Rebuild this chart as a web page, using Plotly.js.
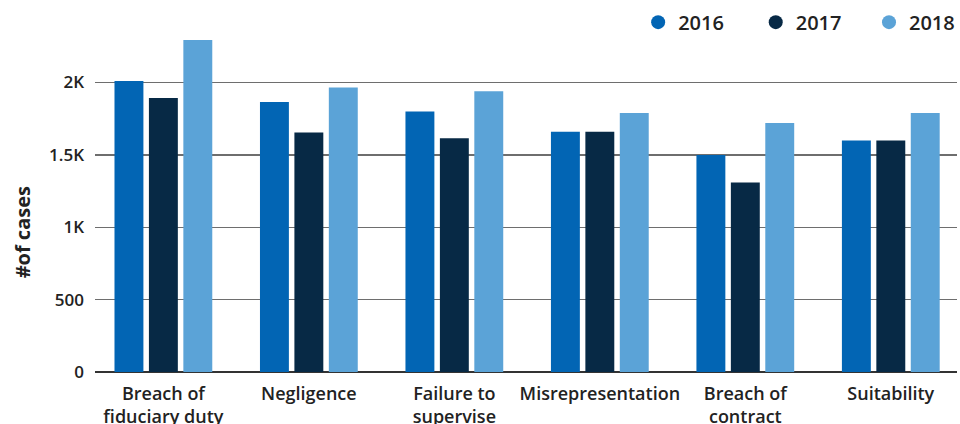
<!DOCTYPE html>
<html>
<head>
<meta charset="utf-8">
<script src="https://cdn.plot.ly/plotly-3.0.1.min.js"></script>
<style>html,body{margin:0;padding:0;background:#fff;}#chart{width:960px;height:424px;}</style>
</head>
<body>
<div id="chart"></div>
<script>
const categories = ["Breach of<br>fiduciary duty", "Negligence", "Failure to<br>supervise", "Misrepresentation", "Breach of<br>contract", "Suitability"];
const years = ["2016", "2017", "2018"];
const values2016 = [2010, 1865, 1800, 1660, 1500, 1600];
const values2017 = [1893, 1655, 1615, 1660, 1310, 1600];
const values2018 = [2294, 1965, 1940, 1790, 1720, 1790];
const colors = ["#0265B4", "#072945", "#5BA3D7"];
const tickVals = [0, 500, 1000, 1500, 2000];
const tickText = ["0", "500", "1K", "1.5K", "2K"];

const series = [values2016, values2017, values2018];
const FONT = "'Open Sans', 'Noto Sans', sans-serif";
const legendIds = ["legend", "legend2", "legend3"];
const legendX = [0.6301, 0.7665, 0.8983];
const traces = [];
series.forEach((vals, i) => {
  traces.push({
    type: "bar", x: categories, y: vals, name: years[i],
    marker: {color: colors[i]}, showlegend: false, hoverinfo: "y"
  });
});
series.forEach((vals, i) => {
  traces.push({
    type: "scatter", mode: "markers", x: [null], y: [null], name: years[i],
    marker: {color: colors[i], size: 14, symbol: "circle"}, showlegend: true,
    legend: legendIds[i]
  });
});

const layout = {
  width: 960, height: 424,
  margin: {l: 95, r: 0, t: 30, b: 52},
  paper_bgcolor: "#fff", plot_bgcolor: "#fff",
  font: {family: FONT, color: "#222"},
  barmode: "group", bargap: 0.29, bargroupgap: 0.16,
  xaxis: {
    type: "category", range: [-0.47, 5.455], showgrid: false, zeroline: false,
    showline: false, ticks: "", ticklabelstandoff: 9,
    tickfont: {family: FONT, size: 18, color: "#222", weight: 600}, fixedrange: true
  },
  yaxis: {
    range: [0, 2363], tickvals: tickVals, ticktext: tickText,
    showgrid: true, gridcolor: "#6e6e6e", gridwidth: 1.5,
    zeroline: true, zerolinecolor: "#333", zerolinewidth: 1.5,
    showline: false, ticks: "", ticklabelstandoff: 10,
    tickfont: {family: FONT, size: 17, color: "#222", weight: 600}, fixedrange: true
  },
  annotations: [{
    text: "#of cases", textangle: -90, xref: "paper", yref: "paper",
    x: -0.0844, y: 0.409, xanchor: "center", yanchor: "middle", showarrow: false,
    font: {family: FONT, size: 20, color: "#222", weight: 700}
  }]
};
legendIds.forEach((id, i) => {
  layout[id] = {
    orientation: "h", x: legendX[i], xanchor: "left", y: 1.023, yanchor: "middle",
    font: {family: FONT, size: 20, color: "#222", weight: 600},
    bgcolor: "rgba(0,0,0,0)", borderwidth: 0
  };
});
Plotly.newPlot("chart", traces, layout, {displayModeBar: false, staticPlot: true});
</script>
</body>
</html>
